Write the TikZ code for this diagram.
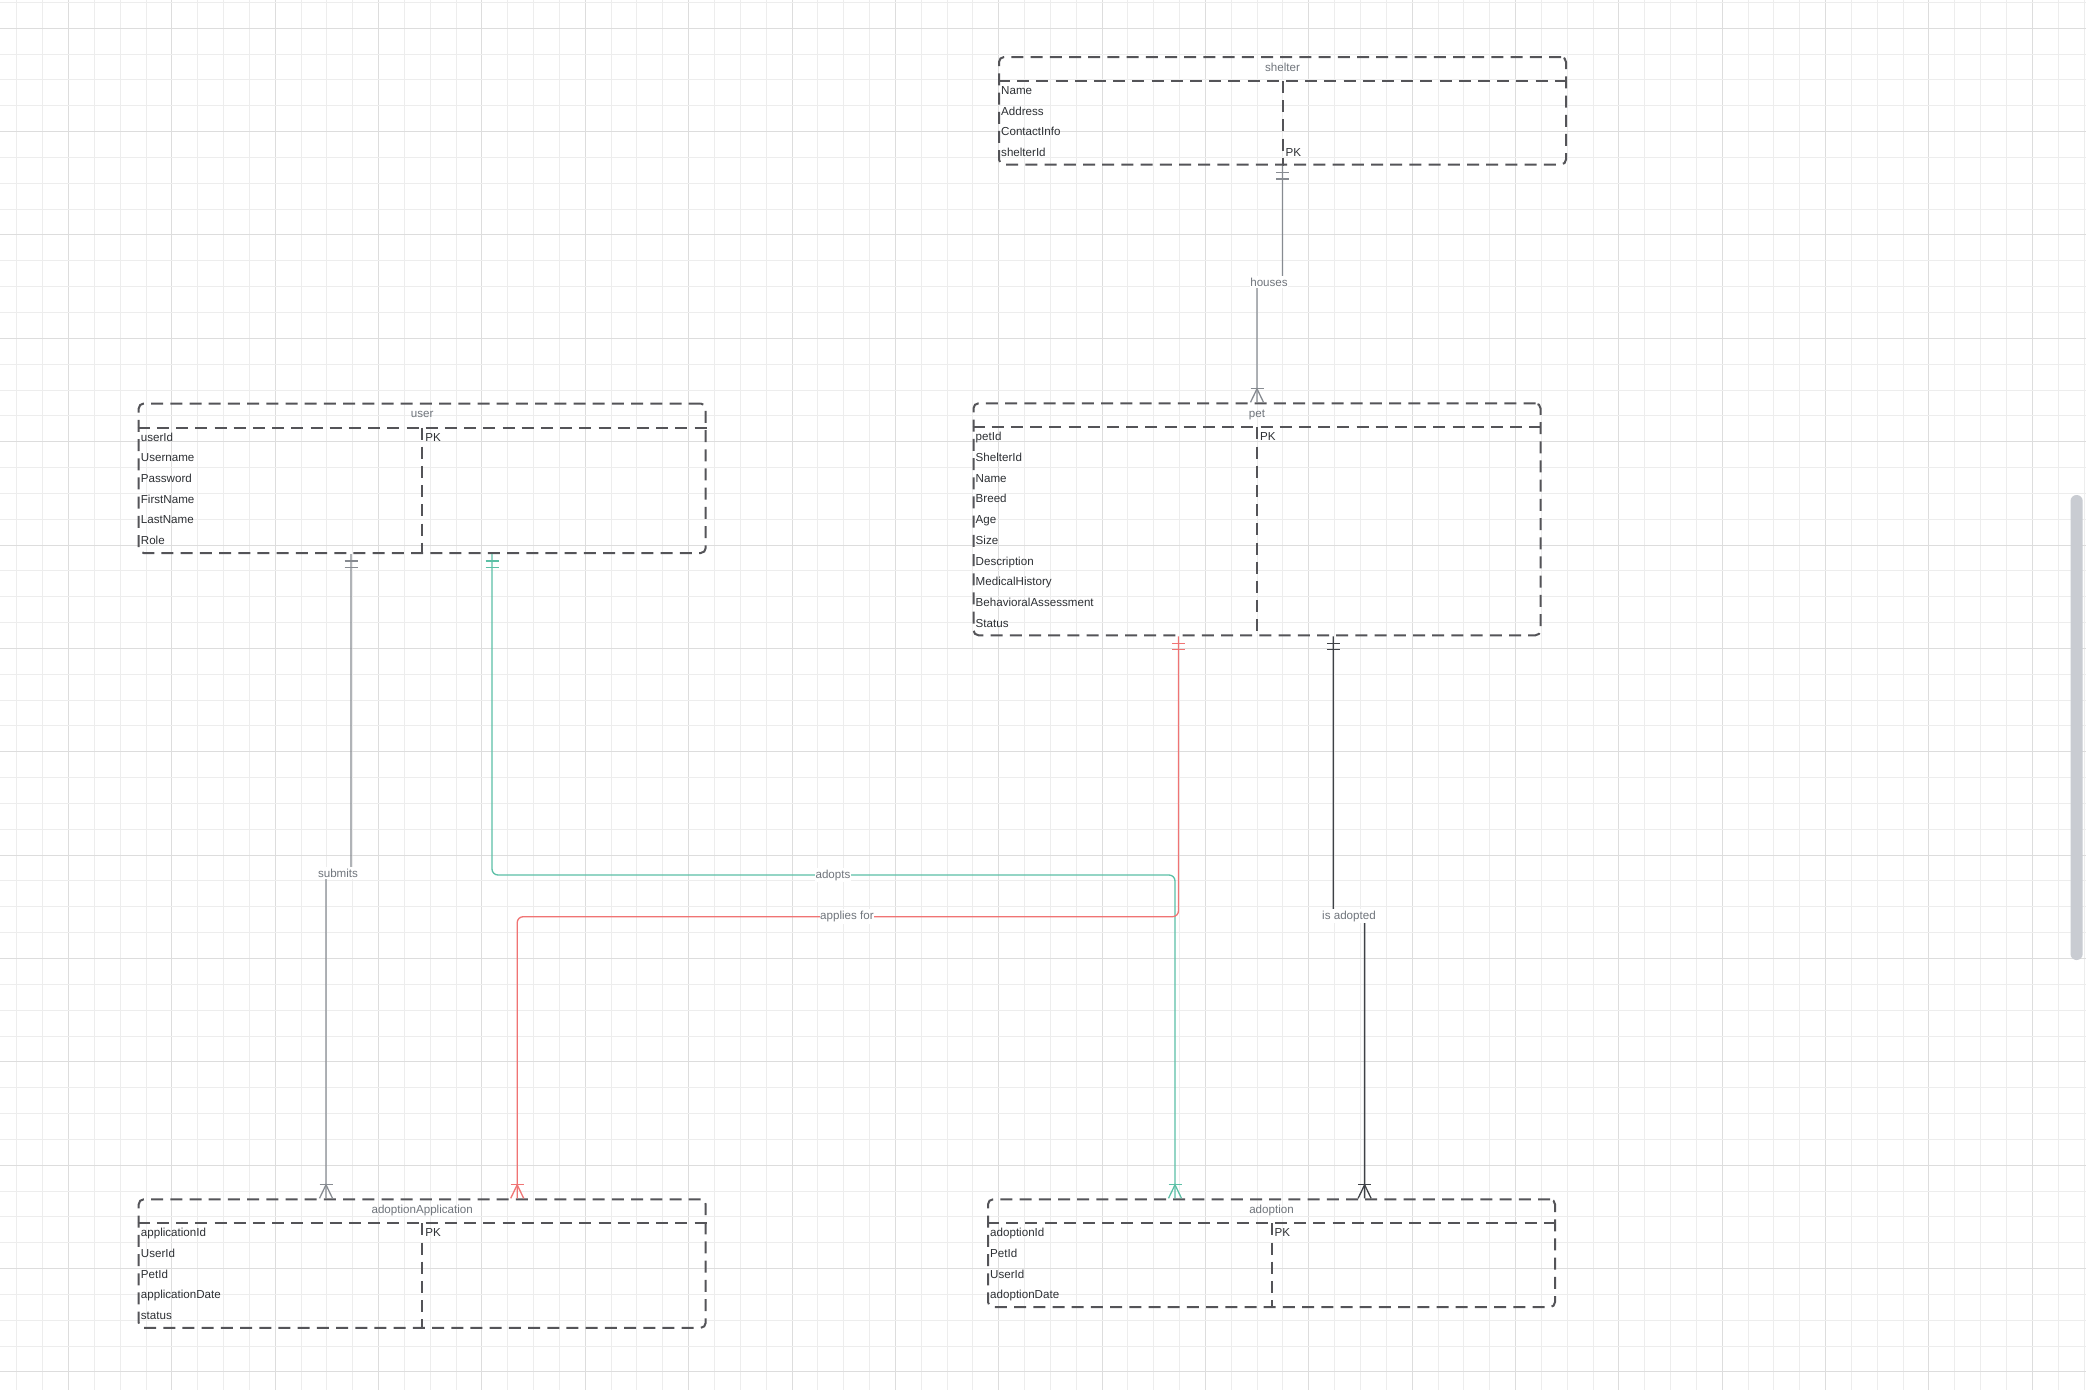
\documentclass[tikz,border=0pt]{standalone}
\usepackage{fontspec}
\setmainfont{Liberation Sans}
\usetikzlibrary{calc}

\definecolor{gridminor}{RGB}{237,237,237}
\definecolor{gridmajor}{RGB}{221,221,221}
\definecolor{boxline}{RGB}{84,84,88}
\definecolor{rowcol}{RGB}{45,48,52}
\definecolor{titlecol}{RGB}{112,117,124}
\definecolor{greyconn}{RGB}{135,139,145}
\definecolor{darkconn}{RGB}{62,65,70}
\definecolor{tealconn}{RGB}{92,192,166}
\definecolor{redconn}{RGB}{240,116,116}
\definecolor{scrollcol}{RGB}{201,204,210}

\tikzset{
  tablebox/.style={draw=boxline, line width=2pt, dash pattern=on 12pt off 7.2pt,
    rounded corners=5pt, minimum width=567pt, anchor=north west, inner sep=0pt},
  boxrule/.style={draw=boxline, line width=2pt, dash pattern=on 12pt off 7.2pt},
  txt/.style={inner sep=0pt, font=\fontsize{11.6}{13}\selectfont},
  rowtext/.style={txt, anchor=base west, text=rowcol},
  titletext/.style={txt, anchor=base, text=titlecol},
  rellabel/.style={txt, text=titlecol, fill=white, inner xsep=0.5pt, inner ysep=2pt},
  conn/.style={line width=1.3pt, rounded corners=6pt},
  erdmark/.style={line width=1.3pt}
}

% one ER table: name, top-left corner, height, title, field/key rows
\newcommand\erdtable[5]{%
  \node[tablebox, minimum height=#3] (#1) at (#2) {};
  \node[titletext] (#1-title) at ($(#1.north)+(0,15)$) {#4};
  \draw[boxrule] ($(#1.north west)+(0,25)$) -- ($(#1.north east)+(0,25)$);
  \draw[boxrule] ($(#1.north)+(0,25)$) -- (#1.south);
  \foreach \f/\k [count=\n] in {#5} {
    \node[rowtext] (#1-f\n) at ($(#1.north west)+(3,{38.5+(\n-1)*20.7})$) {\f};
    \node[rowtext] (#1-k\n) at ($(#1.north)+(3,{38.5+(\n-1)*20.7})$) {\k};
  }
}

% "exactly one" bars below a downward line start
\newcommand\onebars[2]{%
  \draw[erdmark, #2] ($(#1)+(-6.5,7)$) -- ($(#1)+(6.5,7)$);
  \draw[erdmark, #2] ($(#1)+(-6.5,13.5)$) -- ($(#1)+(6.5,13.5)$);
}
% "one or many" crow's foot above a downward line end
\newcommand\crowfoot[2]{%
  \draw[erdmark, #2] ($(#1)+(-6.5,-13.5)$) -- ($(#1)+(6.5,-13.5)$);
  \draw[erdmark, #2] ($(#1)+(-6.5,0)$) -- ($(#1)+(0,-13.5)$) -- ($(#1)+(6.5,0)$);
}

\begin{document}
\begin{tikzpicture}[x=1pt, y=-1pt]
\useasboundingbox (0,0) rectangle (2086,1390);
\fill[white] (0,0) rectangle (2086,1390);

% background grid
\foreach \i in {0,...,80} {
  \pgfmathsetmacro\gx{16.8+\i*25.84}
  \pgfmathtruncatemacro\m{mod(\i,4)}
  \ifnum\m=2 \draw[gridmajor, line width=1pt] (\gx,0) -- (\gx,1390);
  \else \draw[gridminor, line width=1pt] (\gx,0) -- (\gx,1390); \fi
}
\foreach \j in {0,...,53} {
  \pgfmathsetmacro\gy{2.4+\j*25.84}
  \pgfmathtruncatemacro\m{mod(\j,4)}
  \ifnum\m=1 \draw[gridmajor, line width=1pt] (0,\gy) -- (2086,\gy);
  \else \draw[gridminor, line width=1pt] (0,\gy) -- (2086,\gy); \fi
}

% scroll bar
\fill[scrollcol, rounded corners=6pt] (2070.5,495) rectangle (2082.7,960);

% tables
\erdtable{shelter}{998,56}{107.5pt}{shelter}
  {Name/{},Address/{},ContactInfo/{},shelterId/PK}
\erdtable{user}{137.7,402.5}{149.5pt}{user}
  {userId/PK,Username/{},Password/{},FirstName/{},LastName/{},Role/{}}
\erdtable{pet}{972.5,402.3}{232pt}{pet}
  {petId/PK,ShelterId/{},Name/{},Breed/{},Age/{},Size/{},Description/{},MedicalHistory/{},BehavioralAssessment/{},Status/{}}
\erdtable{adoptionApplication}{137.7,1198.3}{128.5pt}{adoptionApplication}
  {applicationId/PK,UserId/{},PetId/{},applicationDate/{},status/{}}
\erdtable{adoption}{987,1198.3}{107.8pt}{adoption}
  {adoptionId/PK,PetId/{},UserId/{},adoptionDate/{}}

% connector end points
\coordinate (hsA) at (shelter.south);
\coordinate (hsB) at (pet.north);
\coordinate (sbA) at ($(user.south west)+(213.3,0)$);
\coordinate (sbB) at ($(adoptionApplication.north west)+(188.3,0)$);
\coordinate (adA) at ($(user.south west)+(354.3,0)$);
\coordinate (adB) at ($(adoption.north west)+(188,0)$);
\coordinate (afA) at ($(pet.south west)+(206,0)$);
\coordinate (afB) at ($(adoptionApplication.north west)+(379.5,0)$);
\coordinate (iaA) at ($(pet.south west)+(360.8,0)$);
\coordinate (iaB) at ($(adoption.north west)+(377.6,0)$);

% label positions
\coordinate (hsM) at (1269,282);
\coordinate (sbM) at (338,873);
\coordinate (adM) at (833,875);
\coordinate (afM) at (847,916.7);
\coordinate (iaM) at (1349,916);

% relationships
\draw[conn, greyconn] (hsA) -- (hsA |- hsM) -- (hsB |- hsM) -- (hsB);
\onebars{hsA}{greyconn}
\crowfoot{hsB}{greyconn}
\node[rellabel] (houses) at (hsM) {houses};

\draw[conn, greyconn] (sbA) -- (sbA |- sbM) -- (sbB |- sbM) -- (sbB);
\onebars{sbA}{greyconn}
\crowfoot{sbB}{greyconn}
\node[rellabel] (submits) at (sbM) {submits};

\draw[conn, tealconn] (adA) -- (adA |- adM) -- (adB |- adM) -- (adB);
\onebars{adA}{tealconn}
\crowfoot{adB}{tealconn}
\node[rellabel] (adopts) at (adM) {adopts};

\draw[conn, redconn] (afA) -- (afA |- afM) -- (afB |- afM) -- (afB);
\onebars{afA}{redconn}
\crowfoot{afB}{redconn}
\node[rellabel] (appliesfor) at (afM) {applies for};

\draw[conn, darkconn] (iaA) -- (iaA |- iaM) -- (iaB |- iaM) -- (iaB);
\onebars{iaA}{darkconn}
\crowfoot{iaB}{darkconn}
\node[rellabel] (isadopted) at (iaM) {is adopted};
\end{tikzpicture}
\end{document}
